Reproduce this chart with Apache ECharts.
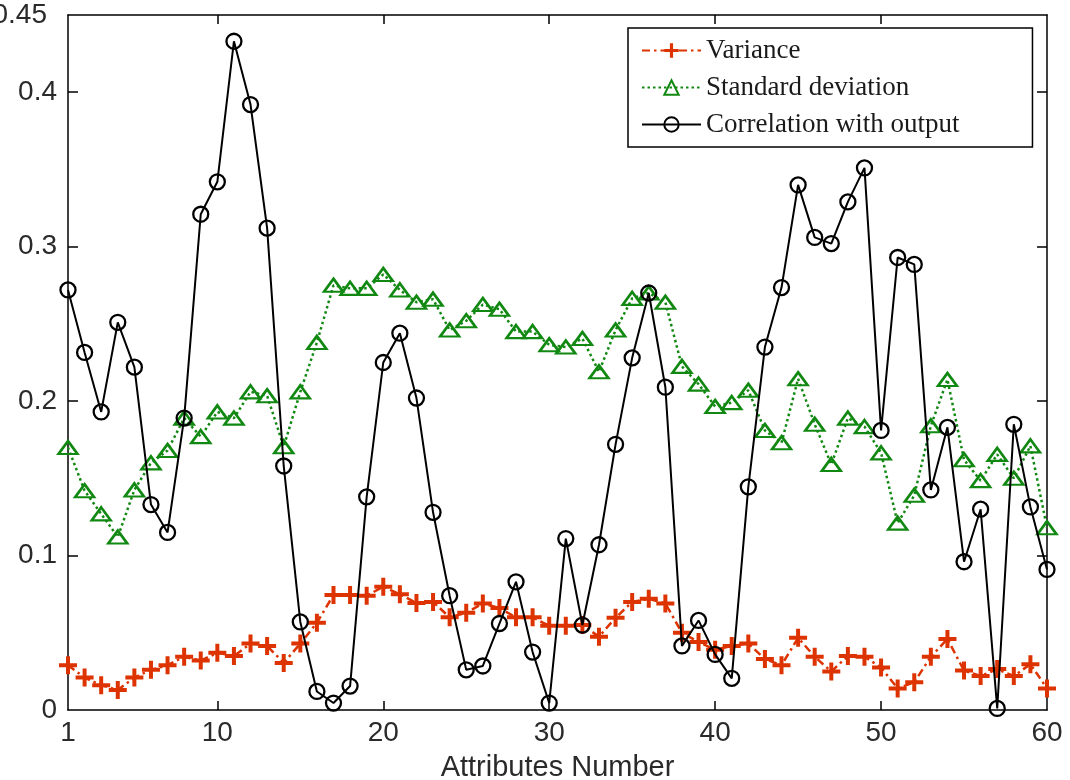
<!DOCTYPE html>
<html>
<head>
<meta charset="utf-8">
<title>Attribute statistics</title>
<script src="https://cdn.jsdelivr.net/npm/echarts@6/dist/echarts.min.js"></script>
<style>
  html, body { margin: 0; padding: 0; background: #fff; }
  #chart { width: 1070px; height: 780px; }
</style>
</head>
<body>
<div id="chart"></div>
<script>
// Attribute index (x) and the three per-attribute statistics
const attributeNo = [1,2,3,4,5,6,7,8,9,10,11,12,13,14,15,16,17,18,19,20,
  21,22,23,24,25,26,27,28,29,30,31,32,33,34,35,36,37,38,39,40,
  41,42,43,44,45,46,47,48,49,50,51,52,53,54,55,56,57,58,59,60];

const variance = [0.029,0.021,0.016,0.013,0.021,0.026,0.029,0.0345,0.032,0.037,
  0.035,0.043,0.0415,0.0305,0.043,0.0565,0.0745,0.0745,0.074,0.0798,
  0.075,0.0693,0.070,0.060,0.063,0.069,0.066,0.060,0.060,0.0545,
  0.0545,0.055,0.0475,0.0597,0.070,0.072,0.069,0.050,0.044,0.039,
  0.0415,0.043,0.033,0.029,0.0467,0.0345,0.0249,0.035,0.0345,0.0275,
  0.014,0.018,0.0345,0.046,0.0255,0.022,0.0265,0.022,0.0297,0.014];

const stdDeviation = [0.170,0.142,0.127,0.112,0.1425,0.160,0.168,0.189,0.177,0.193,
  0.189,0.206,0.2035,0.1705,0.206,0.238,0.275,0.273,0.273,0.282,
  0.272,0.264,0.266,0.246,0.252,0.2625,0.2595,0.245,0.245,0.2365,
  0.235,0.2405,0.219,0.246,0.2665,0.270,0.264,0.2225,0.211,0.1965,
  0.199,0.207,0.181,0.173,0.2145,0.185,0.159,0.189,0.1835,0.1665,
  0.121,0.139,0.184,0.214,0.162,0.1485,0.1655,0.150,0.171,0.118];

const correlation = [0.272,0.2315,0.193,0.251,0.222,0.133,0.115,0.189,0.321,0.342,
  0.433,0.392,0.312,0.158,0.057,0.012,0.0045,0.0155,0.138,0.225,
  0.244,0.202,0.128,0.074,0.026,0.0285,0.056,0.083,0.0375,0.0045,
  0.111,0.055,0.107,0.172,0.228,0.270,0.209,0.0415,0.058,0.036,
  0.0205,0.1445,0.235,0.2735,0.340,0.306,0.302,0.329,0.351,0.181,
  0.293,0.2885,0.1425,0.183,0.096,0.130,0.001,0.185,0.1315,0.091];

const seriesNames = ['Variance', 'Standard deviation', 'Correlation with output'];
const xTickValues = [1, 10, 20, 30, 40, 50, 60];
const yTickValues = [0, 0.1, 0.2, 0.3, 0.4, 0.45];
const xAxisTitle = 'Attributes Number';

const pairs = (ys) => attributeNo.map((x, i) => [x, ys[i]]);

const RED = '#dd3300';
const GREEN = '#118811';
const BLACK = '#000000';
const PLUS = 'path://M7,0H11V7H18V11H11V18H7V11H0V7H7Z';
const labelFont = { fontFamily: 'Liberation Sans, Arial, sans-serif', fontSize: 28, color: '#2a2a2a' };

const chart = echarts.init(document.getElementById('chart'), null, { renderer: 'canvas' });

const frameLine = { show: true, onZero: false, lineStyle: { color: '#000', width: 1.5 } };

chart.setOption({
  animation: false,
  backgroundColor: '#ffffff',
  grid: { left: 68, right: 23, top: 15, bottom: 70, containLabel: false, outerBoundsMode: 'none' },
  legend: {
    orient: 'vertical',
    left: 628,
    top: 28,
    padding: [9, 73, 9, 13],
    itemGap: 10,
    itemWidth: 59,
    itemHeight: 18,
    backgroundColor: '#ffffff',
    borderColor: '#000',
    borderWidth: 1.5,
    textStyle: { fontFamily: 'Liberation Serif, Times New Roman, serif', fontSize: 27, lineHeight: 26, color: '#1a1a1a' },
    data: seriesNames
  },
  xAxis: [
    {
      type: 'value', min: 1, max: 60, position: 'bottom',
      axisLine: frameLine,
      axisTick: { show: true, inside: true, length: 9, customValues: [10, 20, 30, 40, 50], lineStyle: { color: '#000', width: 1.5 } },
      axisLabel: Object.assign({ margin: 9, customValues: xTickValues }, labelFont),
      splitLine: { show: false },
      name: xAxisTitle, nameLocation: 'middle', nameGap: 43,
      nameTextStyle: { fontFamily: 'Liberation Sans, Arial, sans-serif', fontSize: 29, color: '#2a2a2a' }
    },
    {
      type: 'value', min: 1, max: 60, position: 'top',
      axisLine: frameLine,
      axisTick: { show: true, inside: true, length: 9, customValues: [10, 20, 30, 40, 50], lineStyle: { color: '#000', width: 1.5 } },
      axisLabel: { show: false },
      splitLine: { show: false }
    }
  ],
  yAxis: [
    {
      type: 'value', min: 0, max: 0.45, position: 'left',
      axisLine: frameLine,
      axisTick: { show: true, inside: true, length: 10, customValues: [0.1, 0.2, 0.3, 0.4], lineStyle: { color: '#000', width: 1.5 } },
      axisLabel: Object.assign({
        margin: 11,
        customValues: yTickValues,
        formatter: (v) => (Math.abs(v - 0.45) < 1e-9 ? '{t|0.45}{s| }' : String(+v.toFixed(2))),
        rich: {
          t: Object.assign({}, labelFont),
          s: { width: 10, fontSize: 28 }
        }
      }, labelFont),
      splitLine: { show: false }
    },
    {
      type: 'value', min: 0, max: 0.45, position: 'right',
      axisLine: frameLine,
      axisTick: { show: true, inside: true, length: 10, customValues: [0.1, 0.2, 0.3, 0.4], lineStyle: { color: '#000', width: 1.5 } },
      axisLabel: { show: false },
      splitLine: { show: false }
    }
  ],
  series: [
    {
      name: seriesNames[0], type: 'line', data: pairs(variance), clip: false,
      symbol: PLUS, symbolSize: 18,
      lineStyle: { color: RED, width: 2.5, type: [8, 4, 2.5, 4] },
      itemStyle: { color: RED, borderWidth: 0 },
      z: 2
    },
    {
      name: seriesNames[1], type: 'line', data: pairs(stdDeviation), clip: false,
      symbol: 'triangle', symbolSize: [19, 13],
      lineStyle: { color: GREEN, width: 2.5, type: [2.5, 3] },
      itemStyle: { color: 'rgba(255,255,255,0)', borderColor: GREEN, borderWidth: 2.5 },
      z: 3
    },
    {
      name: seriesNames[2], type: 'line', data: pairs(correlation), clip: false,
      symbol: 'circle', symbolSize: 15,
      lineStyle: { color: BLACK, width: 2 },
      itemStyle: { color: 'rgba(255,255,255,0)', borderColor: BLACK, borderWidth: 2.3 },
      z: 4
    }
  ]
});
</script>
</body>
</html>
